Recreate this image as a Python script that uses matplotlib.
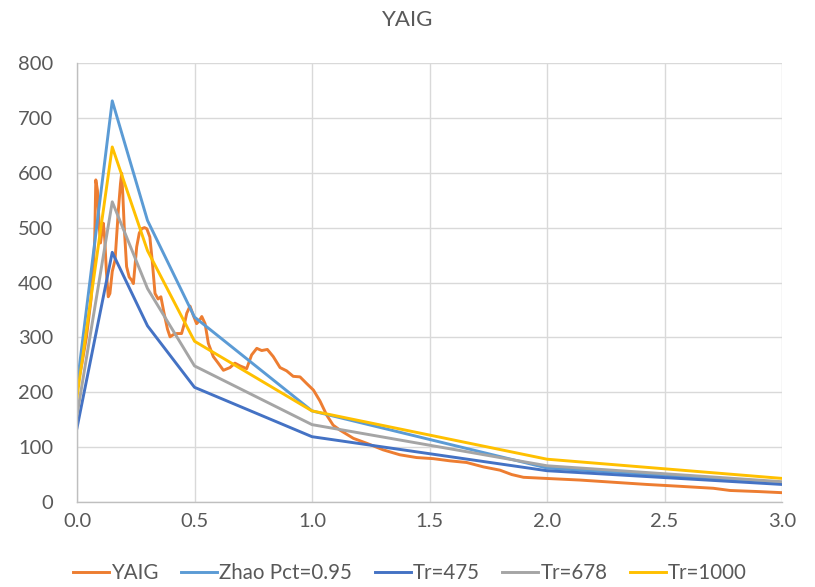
import matplotlib
matplotlib.use("Agg")
import matplotlib.pyplot as plt

# YAIG record spectrum
yaig_T = [0.0, 0.02, 0.04, 0.06, 0.075, 0.08, 0.087, 0.095, 0.10, 0.107, 0.112, 0.118, 0.125,
          0.133, 0.14, 0.15, 0.162, 0.176, 0.185, 0.19, 0.195, 0.201, 0.211, 0.222, 0.233, 0.24,
          0.254, 0.265, 0.275, 0.287, 0.297, 0.31, 0.32, 0.332, 0.345, 0.357, 0.37, 0.385, 0.396,
          0.41, 0.425, 0.445, 0.46, 0.467, 0.481, 0.495, 0.509, 0.52, 0.531, 0.545, 0.559, 0.58,
          0.601, 0.623, 0.651, 0.672, 0.694, 0.722, 0.743, 0.765, 0.786, 0.81, 0.835, 0.864,
          0.892, 0.92, 0.949, 0.977, 1.006, 1.034, 1.063, 1.09, 1.119, 1.176, 1.233, 1.303,
          1.374, 1.445, 1.516, 1.587, 1.658, 1.729, 1.8, 1.85, 1.9, 1.994, 2.14, 2.282, 2.424,
          2.55, 2.708, 2.779, 2.9, 3.0]
yaig_V = [208, 250, 300, 370, 470, 587, 568, 500, 472, 495, 508, 480, 420,
          374, 380, 420, 441, 532, 580, 599, 560, 501, 429, 410, 404, 398,
          465, 490, 498, 500, 498, 483, 440, 380, 370, 374, 345, 315, 301,
          305, 307, 307, 330, 344, 357, 340, 325, 330, 338, 325, 289, 265,
          253, 240, 245, 253, 248, 243, 268, 280, 276, 278, 265, 245,
          239, 229, 228, 216, 204, 184, 158, 140, 131, 116, 107, 95,
          86, 81, 79, 75, 72, 64, 58, 50, 45, 43, 40, 36, 32,
          29, 25, 21, 19, 17]

# Design spectra periods
design_T = [0.0, 0.15, 0.3, 0.5, 1.0, 2.0, 3.0]
zhao_V = [212, 731, 513, 337, 166, 62, 35]
tr475_V = [135, 455, 321, 209, 119, 57, 32]
tr678_V = [158, 547, 389, 248, 141, 66, 37]
tr1000_V = [191, 647, 458, 293, 166, 78, 43]

series = [
    ("YAIG", yaig_T, yaig_V, "#ED7D31"),
    ("Zhao Pct=0.95", design_T, zhao_V, "#5B9BD5"),
    ("Tr=475", design_T, tr475_V, "#4472C4"),
    ("Tr=678", design_T, tr678_V, "#A5A5A5"),
    ("Tr=1000", design_T, tr1000_V, "#FFC000"),
]

x_ticks = [0.0, 0.5, 1.0, 1.5, 2.0, 2.5, 3.0]
y_ticks = [0, 100, 200, 300, 400, 500, 600, 700, 800]

plt.rcParams['font.family'] = ['Lato', 'DejaVu Sans']

fig = plt.figure(figsize=(8.15, 5.87), dpi=100)
ax = fig.add_axes([77/815, 1-502/587, (782-77)/815, (502-63)/587])

for name, t, v, c in series:
    ax.plot(t, v, color=c, lw=2.1, label=name, solid_joinstyle='round')

ax.set_xlim(0, 3.0)
ax.set_ylim(0, 800)
ax.set_xticks(x_ticks)
ax.set_xticklabels([f"{t:.1f}" for t in x_ticks])
ax.set_yticks(y_ticks)
ax.set_yticklabels([str(y) for y in y_ticks])
ax.grid(True, color="#D9D9D9", lw=1.0)
ax.set_axisbelow(True)
for s in ['top', 'right']:
    ax.spines[s].set_visible(False)
for s in ['left', 'bottom']:
    ax.spines[s].set_color("#BFBFBF")
    ax.spines[s].set_linewidth(1.0)
ax.tick_params(length=0, labelsize=14.5, colors="#595959")
ax.tick_params(axis='y', pad=17)
ax.tick_params(axis='x', pad=8)

fig.text(0.5, 1-20/587, "YAIG", ha='center', va='center', fontsize=16, color="#595959")

ax.legend(loc='center', bbox_to_anchor=((410-77)/705, (502-573)/(502-63)), ncol=5, frameon=False,
          fontsize=14.8, handlelength=1.75, handletextpad=0.1, columnspacing=1.1,
          labelcolor="#595959")

fig.savefig("out.png", dpi=100)
